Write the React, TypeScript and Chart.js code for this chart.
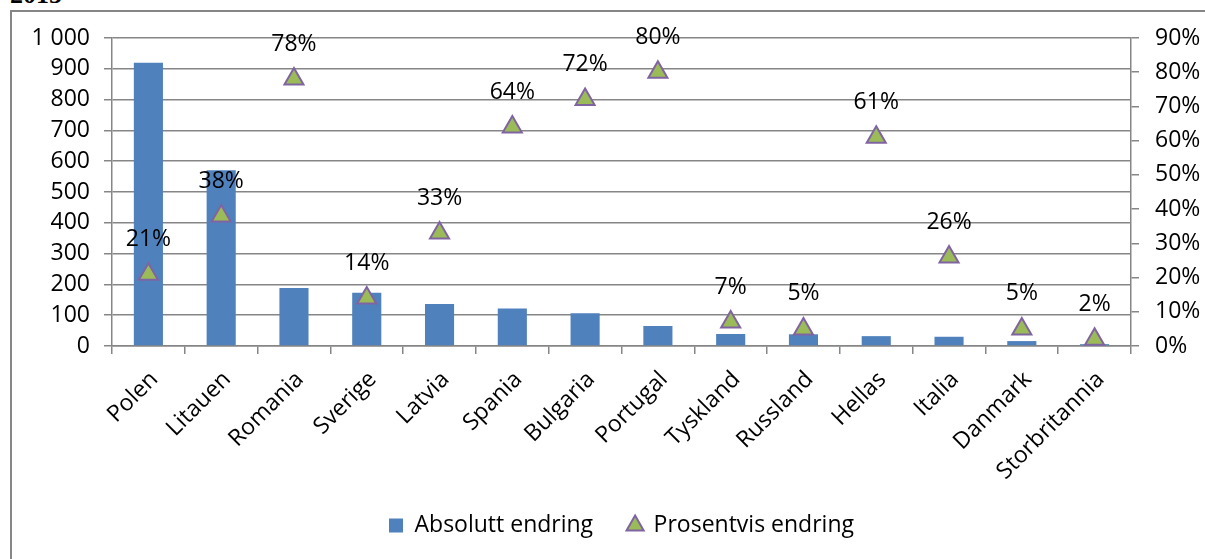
import React, { useEffect, useRef } from 'react';
import { Chart, registerables } from 'chart.js';

Chart.register(...registerables);

const categories = ['Polen', 'Litauen', 'Romania', 'Sverige', 'Latvia', 'Spania', 'Bulgaria', 'Portugal', 'Tyskland', 'Russland', 'Hellas', 'Italia', 'Danmark', 'Storbritannia'];
const absoluteChange = [920, 571, 188, 173, 136, 122, 106, 65, 39, 38, 32, 30, 16, 6];
const percentChange = [21, 38, 78, 14, 33, 64, 72, 80, 7, 5, 61, 26, 5, 2];
const seriesNames = ['Absolutt endring', 'Prosentvis endring'];
const titleText = '2015';

const FONT = "'Open Sans', 'Noto Sans', sans-serif";
const FS = 23;
const GRID = '#868686';

const pointLabels = {
  id: 'pointLabels',
  afterDatasetsDraw(chart: any) {
    const meta = chart.getDatasetMeta(1);
    const ctx = chart.ctx;
    ctx.save();
    ctx.font = `${FS}px ${FONT}`;
    ctx.fillStyle = '#000';
    ctx.textAlign = 'center';
    ctx.textBaseline = 'middle';
    meta.data.forEach((el: any, i: number) => {
      ctx.fillText(`${percentChange[i]}%`, el.x, el.y - 35);
    });
    ctx.restore();
  },
};

export default function App() {
  const ref = useRef<HTMLCanvasElement>(null);
  useEffect(() => {
    if (!ref.current) return;
    const chart = new Chart(ref.current, {
      type: 'bar',
      data: {
        labels: categories,
        datasets: [
          {
            type: 'bar',
            label: seriesNames[0],
            data: absoluteChange,
            backgroundColor: '#4F81BD',
            borderWidth: 0,
            barPercentage: 0.4,
            categoryPercentage: 1,
            yAxisID: 'y',
            pointStyle: 'rect',
            order: 2,
          } as any,
          {
            type: 'line',
            label: seriesNames[1],
            data: percentChange,
            showLine: false,
            backgroundColor: '#9BBB59',
            borderColor: '#8064A2',
            borderWidth: 2,
            pointStyle: 'triangle',
            pointRadius: 11,
            pointBackgroundColor: '#9BBB59',
            pointBorderColor: '#8064A2',
            pointBorderWidth: 2,
            yAxisID: 'y1',
            order: 1,
          } as any,
        ],
      },
      options: {
        animation: false,
        responsive: false,
        layout: { padding: { top: 38, left: 0, right: 0, bottom: 12 } },
        font: { family: FONT },
        plugins: {
          tooltip: { enabled: false },
          legend: {
            position: 'bottom',
            fullSize: false,
            labels: {
              usePointStyle: true,
              boxWidth: 14,
              boxHeight: 14,
              padding: 35,
              color: '#000',
              font: { family: FONT, size: FS },
              sort: (a: any, b: any) => a.datasetIndex - b.datasetIndex,
            },
          },
        },
        scales: {
          x: {
            offset: true,
            grid: { display: true, drawOnChartArea: false, drawTicks: true, tickLength: 8, color: GRID, lineWidth: 1.5, offset: true },
            border: { display: true, color: GRID, width: 1.5 },
            ticks: { color: '#000', font: { family: FONT, size: FS }, minRotation: 45, maxRotation: 45, autoSkip: false, padding: 12, labelOffset: 6 },
            afterFit: (s: any) => { s.height = 133; },
          },
          y: {
            position: 'left',
            min: 0,
            max: 1000,
            ticks: {
              stepSize: 100,
              color: '#000',
              padding: 14,
              font: { family: FONT, size: FS },
              callback: (v: any) => (v >= 1000 ? `${Math.floor(v / 1000)} ${String(v % 1000).padStart(3, '0')}` : `${v}`),
            },
            grid: { color: GRID, lineWidth: 1.5, drawTicks: true, tickLength: 8, tickColor: GRID },
            border: { display: true, color: GRID, width: 1.5 },
            afterFit: (s: any) => { s.width = 112; },
          },
          y1: {
            position: 'right',
            min: 0,
            max: 90,
            ticks: {
              stepSize: 10,
              color: '#000',
              padding: 16,
              font: { family: FONT, size: FS },
              callback: (v: any) => `${v}%`,
            },
            grid: { drawOnChartArea: false, drawTicks: true, tickLength: 8, color: GRID, lineWidth: 1.5 },
            border: { display: true, color: GRID, width: 1.5 },
            afterFit: (s: any) => { s.width = 74; },
          },
        },
      },
      plugins: [pointLabels],
    } as any);
    return () => chart.destroy();
  }, []);

  return (
    <div style={{ position: 'fixed', left: 0, top: 0, width: 1205, height: 559, overflow: 'hidden', background: '#fff' }}>
      <div style={{ position: 'absolute', left: 10, top: -18, fontFamily: "'Liberation Serif', serif", fontWeight: 'bold', fontSize: 26, lineHeight: '26px', color: '#000' }}>{titleText}</div>
      <div style={{ position: 'absolute', left: 10, top: 10, width: 1300, height: 700, border: `2px solid ${GRID}`, boxSizing: 'border-box' }} />
      <canvas ref={ref} width={1205} height={559} style={{ position: 'absolute', left: 0, top: 0, width: 1205, height: 559 }} />
    </div>
  );
}
